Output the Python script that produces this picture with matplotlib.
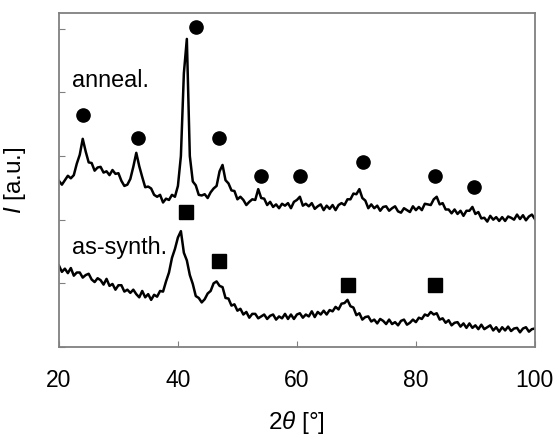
import numpy as np
import matplotlib
matplotlib.use("Agg")
import matplotlib.pyplot as plt

plt.rcParams['font.family'] = ['Liberation Sans', 'DejaVu Sans']
plt.rcParams['mathtext.fontset'] = 'custom'
plt.rcParams['mathtext.rm'] = 'Liberation Sans'
plt.rcParams['mathtext.it'] = 'Liberation Sans:italic'

# 2theta sampling grid (deg), values every 0.5 deg
two_theta = np.arange(20, 100.5, 0.5)

anneal = [
    261, 255, 262, 269, 265, 270, 288, 302, 327, 307,
    290, 289, 277, 282, 283, 274, 276, 270, 278, 272,
    273, 261, 253, 255, 264, 283, 305, 284, 267, 251,
    252, 249, 239, 236, 239, 227, 233, 231, 239, 236,
    253, 300, 430, 484, 300, 260, 254, 239, 238, 240,
    234, 243, 249, 253, 276, 286, 262, 257, 246, 245,
    232, 236, 231, 223, 228, 232, 231, 248, 234, 233,
    223, 228, 220, 224, 218, 225, 222, 226, 218, 228,
    231, 236, 222, 225, 221, 226, 217, 221, 224, 215,
    222, 217, 223, 215, 223, 226, 223, 232, 232, 241,
    240, 248, 234, 230, 218, 224, 218, 222, 214, 220,
    221, 214, 218, 221, 213, 211, 218, 215, 212, 221,
    215, 220, 215, 225, 224, 223, 232, 236, 224, 226,
    216, 216, 210, 216, 209, 214, 206, 214, 214, 220,
    209, 212, 202, 203, 197, 206, 200, 204, 198, 204,
    198, 205, 203, 200, 208, 201, 207, 199, 205, 208,
    201,
]

as_synth = [
    128, 118, 123, 116, 124, 112, 117, 117, 109, 113,
    115, 106, 102, 108, 105, 98, 107, 96, 99, 90,
    97, 97, 87, 90, 85, 90, 83, 78, 88, 78,
    83, 74, 82, 79, 88, 87, 103, 117, 140, 154,
    172, 182, 148, 136, 113, 99, 80, 77, 70, 75,
    84, 88, 100, 103, 96, 94, 77, 76, 65, 67,
    57, 60, 51, 55, 46, 52, 52, 45, 48, 51,
    44, 49, 51, 43, 48, 45, 52, 44, 51, 44,
    51, 53, 46, 51, 48, 56, 47, 55, 51, 57,
    51, 58, 56, 63, 59, 68, 69, 74, 64, 62,
    50, 53, 43, 47, 48, 40, 43, 37, 44, 41,
    36, 43, 36, 39, 34, 41, 43, 35, 38, 43,
    39, 46, 44, 51, 49, 55, 51, 53, 43, 45,
    38, 42, 34, 38, 39, 32, 37, 30, 37, 30,
    34, 28, 35, 28, 31, 34, 26, 31, 24, 31,
    26, 32, 25, 29, 30, 23, 29, 31, 24, 28,
    29,
]

# phase markers
circle_x = [24.0, 33.3, 43.0, 46.9, 53.9, 60.5, 71.1, 83.2, 89.7]
circle_y = [365, 329, 503, 329, 269, 269, 291, 269, 252]
square_x = [41.3, 46.9, 68.6, 83.2]
square_y = [212, 135, 97, 97]

fig = plt.figure(figsize=(5.56, 4.42), dpi=100)
ax = fig.add_axes([0.106, 0.215, 0.856, 0.756])

ax.plot(two_theta, anneal, color='black', lw=1.8)
ax.plot(two_theta, as_synth, color='black', lw=1.8)
ax.plot(circle_x, circle_y, 'o', color='black', ms=9.5, ls='none')
ax.plot(square_x, square_y, 's', color='black', ms=10, ls='none')

ax.text(22.2, 409, 'anneal.', fontsize=16.8, va='baseline')
ax.text(22.2, 146, 'as-synth.', fontsize=16.8, va='baseline')

ax.set_xlim(20, 100)
ax.set_ylim(0, 525)
ax.set_xticks([20, 40, 60, 80, 100])
ax.set_yticks([0, 100, 200, 300, 400, 500])
ax.set_yticklabels([])
ax.tick_params(direction='in', length=4, color='#808080', labelsize=16.5, pad=16)
for s in ax.spines.values():
    s.set_color('#808080')
    s.set_linewidth(1.3)

ax.set_xlabel(r'$\it{2\theta}$ [°]', fontsize=17.5, labelpad=12)
ax.set_ylabel(r'$\it{I}$ [a.u.]', fontsize=17.5, labelpad=6)

fig.savefig('out.png', dpi=100)
